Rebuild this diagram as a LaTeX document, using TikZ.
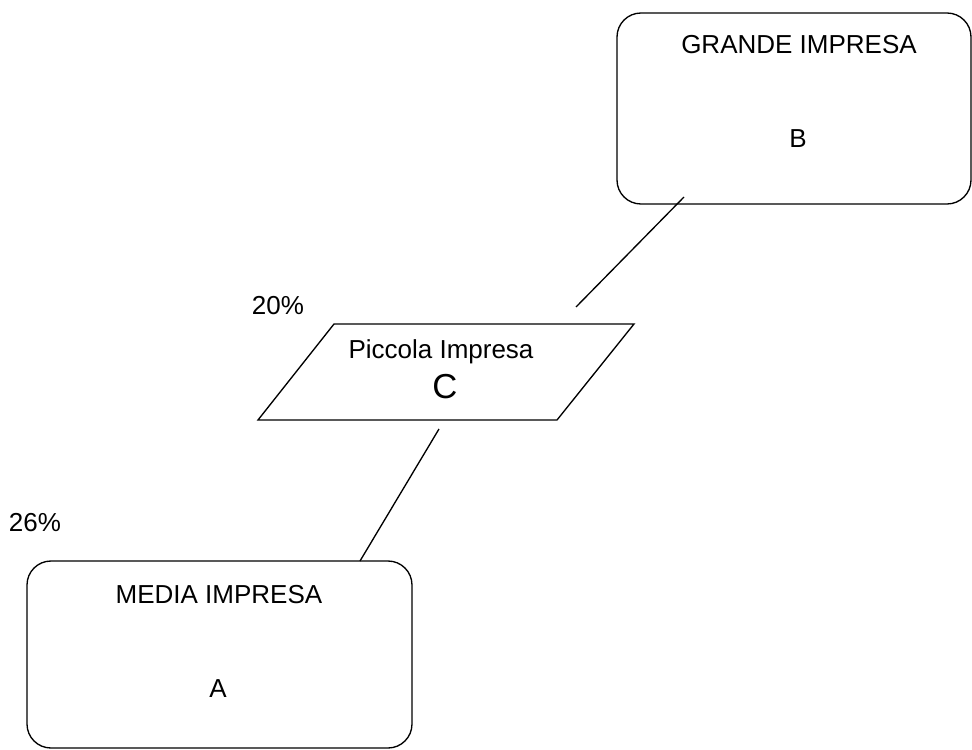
\documentclass[tikz,border=0pt]{standalone}
\usepackage{fontspec}
\setmainfont{Liberation Sans}
\usetikzlibrary{positioning}

\tikzstyle{impresa}=[rectangle, draw, line width=1pt, rounded corners=18pt, inner sep=0pt, outer sep=0pt]
\tikzstyle{label}=[anchor=base, inner sep=0pt, font=\fontsize{19.5}{23}\selectfont]
\tikzstyle{biglabel}=[anchor=base, inner sep=0pt, font=\fontsize{26}{30}\selectfont]

\begin{document}
\begin{tikzpicture}[x=0.75pt, y=-0.75pt, line width=1pt]
\useasboundingbox (0,0) rectangle (972,750);

\node[impresa, minimum width=265.5pt, minimum height=143.25pt] (vB) at (794,108.5) {};
\node[label] (tB) at (799,53) {GRANDE IMPRESA};
\node[label] (lB) at (798,147) {B};

\coordinate (p1) at (258,420);
\coordinate (p2) at (557,420);
\coordinate (p3) at (634,324);
\coordinate (p4) at (334,324);
\draw (p1) -- (p2) -- (p3) -- (p4) -- cycle;
\node[label] (tC) at (441,358) {Piccola Impresa};
\node[biglabel] (lC) at (445,398) {C};
\node[label] (pC) at (278,314) {20\%};

\node[impresa, minimum width=288.75pt, minimum height=140.25pt] (vA) at (219.5,654.5) {};
\node[label] (tA) at (219,603) {MEDIA IMPRESA};
\node[label] (lA) at (218,697) {A};
\node[label] (pA) at (35,531) {26\%};

\coordinate (b1) at (684,197);
\coordinate (b2) at (576,307);
\coordinate (a1) at (439,429);
\coordinate (a2) at (360,561);
\draw (b1) -- (b2);
\draw (a1) -- (a2);
\end{tikzpicture}
\end{document}
